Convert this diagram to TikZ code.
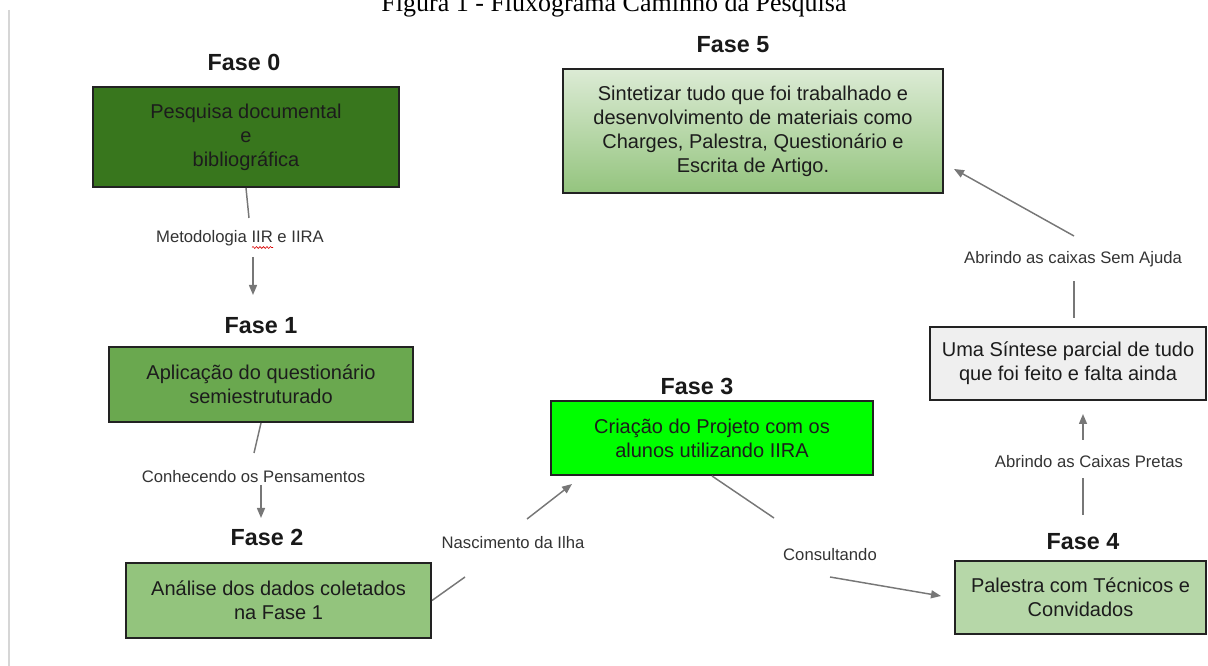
\documentclass[tikz,border=0pt]{standalone}
\usepackage{fontspec}
\setmainfont{Liberation Sans}
\newfontfamily\titlefont{Liberation Serif}
\usetikzlibrary{arrows.meta,decorations.pathmorphing}
\definecolor{cf0}{HTML}{38761D}
\definecolor{cf1}{HTML}{6AA84F}
\definecolor{cf2}{HTML}{93C47D}
\definecolor{cf3}{HTML}{00FF00}
\definecolor{cf4}{HTML}{B6D7A8}
\definecolor{csin}{HTML}{EFEFEF}
\definecolor{cf5top}{HTML}{DCEBD5}
\definecolor{cf5bot}{HTML}{94C47E}
\definecolor{boxline}{HTML}{222222}
\definecolor{txt}{HTML}{1C1C1C}
\definecolor{txttwo}{HTML}{333333}
\definecolor{linegray}{HTML}{777777}
\definecolor{leftgray}{HTML}{D6D6D6}
\begin{document}
\begin{tikzpicture}[x=0.75pt,y=-0.75pt,
  box/.style={draw=boxline, line width=1.5pt, align=center, inner sep=0pt,
    text=txt, font=\fontsize{15}{18}\selectfont},
  fase/.style={font=\bfseries\fontsize{17.5}{20}\selectfont, text=black!90, inner sep=0pt},
  elabel/.style={font=\fontsize{12.5}{15}\selectfont, text=txttwo, inner sep=0pt},
  conn/.style={draw=linegray, line width=1.1pt},
  arr/.style={conn, -{Triangle[length=7.5pt,width=6pt]}},
]
\useasboundingbox (0,0) rectangle (1208,666);

% title (top cut off) and left rule
\node[font=\titlefont\fontsize{19.5}{22}\selectfont, anchor=base, inner sep=0pt] (title) at (614,12) {Figura 1 - Fluxograma Caminho da Pesquisa};
\coordinate (lt) at (9,10);
\coordinate (lb) at (9,666);
\draw[draw=leftgray, line width=1.1pt] (lt) -- (lb);

% phase labels
\node[fase] (p0) at (244,62) {Fase 0};
\node[fase] (p1) at (261,326) {Fase 1};
\node[fase] (p2) at (267,537) {Fase 2};
\node[fase] (p3) at (697,386) {Fase 3};
\node[fase] (p4) at (1083,542) {Fase 4};
\node[fase] (p5) at (733,45) {Fase 5};

% boxes
\node[box, fill=cf0, minimum width={306*0.75pt}, minimum height={100*0.75pt}] (f0) at (246,137)
  {Pesquisa documental\\e\\bibliográfica};
\node[box, fill=cf1, minimum width={304*0.75pt}, minimum height={75*0.75pt}] (f1) at (261,384.5)
  {Aplicação do questionário\\semiestruturado};
\node[box, fill=cf2, minimum width={305*0.75pt}, minimum height={75*0.75pt}] (f2) at (278.5,600.5)
  {Análise dos dados coletados\\na Fase 1};
\node[box, fill=cf3, minimum width={322*0.75pt}, minimum height={74*0.75pt}] (f3) at (712,438)
  {Criação do Projeto com os\\alunos utilizando IIRA};
\node[box, fill=cf4, minimum width={251*0.75pt}, minimum height={73*0.75pt}] (f4) at (1080.5,597.5)
  {Palestra com Técnicos e\\Convidados};
\node[box, fill=csin, minimum width={276*0.75pt}, minimum height={73*0.75pt}] (sin) at (1068,363.5)
  {Uma Síntese parcial de tudo\\que foi feito e falta ainda};
\node[box, top color=cf5top, bottom color=cf5bot, minimum width={380*0.75pt}, minimum height={124*0.75pt}] (f5) at (753,131)
  {Sintetizar tudo que foi trabalhado e\\desenvolvimento de materiais como\\Charges, Palestra, Questionário e\\Escrita de Artigo.};

% edge labels
\node[elabel] (l01) at (240,238) {Metodologia IIR e IIRA};
\node[elabel] (l12) at (253.5,477) {Conhecendo os Pensamentos};
\node[elabel] (l23) at (513,543) {Nascimento da Ilha};
\node[elabel] (l34) at (830,555) {Consultando};
\node[elabel] (l4s) at (1089,462) {Abrindo as Caixas Pretas};
\node[elabel] (ls5) at (1073,259) {Abrindo as caixas Sem Ajuda};

% spell-check squiggle under IIR
\coordinate (sqa) at (252,247.5);
\coordinate (sqb) at (273,247.5);
\draw[red!85!black, line width=0.45pt, decorate, decoration={snake, amplitude=0.7pt, segment length=2.6pt}] (sqa) -- (sqb);

% connectors
\coordinate (a01) at (249,218);
\coordinate (b01) at (253,257);
\coordinate (c01) at (253,295);
\draw[conn] (f0.south) -- (a01);
\draw[arr] (b01) -- (c01);

\coordinate (a12) at (254,453);
\coordinate (b12) at (261,485);
\coordinate (c12) at (261,518);
\draw[conn] (f1.south) -- (a12);
\draw[arr] (b12) -- (c12);

\coordinate (a23) at (465,577);
\coordinate (b23) at (527,519);
\coordinate (c23) at (572,484);
\draw[conn] (f2.east) -- (a23);
\draw[arr] (b23) -- (c23);

\coordinate (a34) at (774,518);
\coordinate (b34) at (830,577);
\coordinate (c34) at (941,596);
\draw[conn] (f3.south) -- (a34);
\draw[arr] (b34) -- (c34);

\coordinate (a4s) at (1083,515);
\coordinate (b4s) at (1083,478);
\coordinate (c4s) at (1083,440);
\coordinate (d4s) at (1083,414);
\draw[conn] (a4s) -- (b4s);
\draw[arr] (c4s) -- (d4s);

\coordinate (as5) at (1074,318);
\coordinate (bs5) at (1074,281);
\coordinate (cs5) at (1074,236);
\coordinate (ds5) at (954,169);
\draw[conn] (as5) -- (bs5);
\draw[arr] (cs5) -- (ds5);
\end{tikzpicture}
\end{document}
